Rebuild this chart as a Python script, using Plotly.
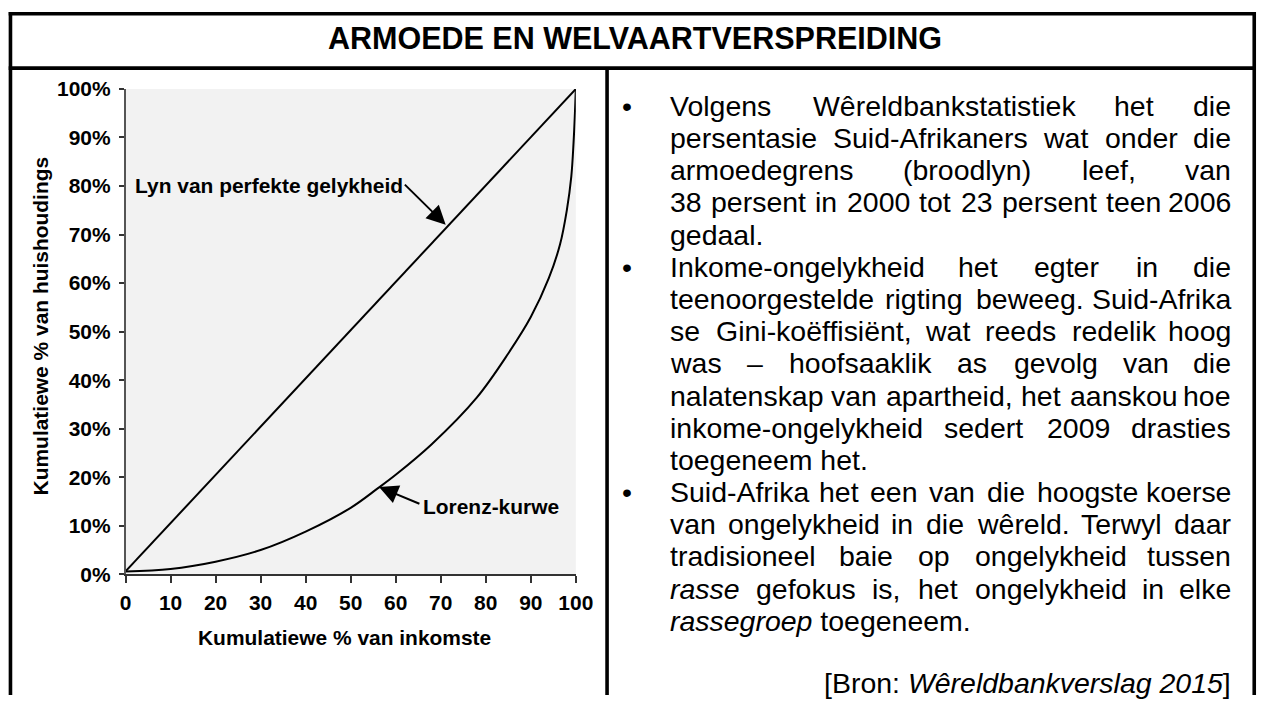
import plotly.graph_objects as go

W, H = 1273, 706

# ---------------- data ----------------
title_text = "ARMOEDE EN WELVAARTVERSPREIDING"
x_title = "Kumulatiewe % van inkomste"
y_title = "Kumulatiewe % van huishoudings"
equality_label = "Lyn van perfekte gelykheid"
lorenz_label = "Lorenz-kurwe"

# Lorenz curve (cumulative % of income on x, cumulative % of households on y)
lorenz_x = [0, 10, 20, 30, 40, 50, 56, 60, 68, 78, 85, 90, 94, 96.5, 98, 99, 99.5, 99.8, 100]
lorenz_y = [0.6, 1.1, 2.6, 5.0, 8.8, 13.7, 17.7, 20.5, 26.8, 36.4, 45.5, 53, 61, 68, 75, 82, 89, 95, 100]

# line of perfect equality
equality_x = [0, 100]
equality_y = [0.6, 100]

x_ticks = [0, 10, 20, 30, 40, 50, 60, 70, 80, 90, 100]
y_ticks = [0, 10, 20, 30, 40, 50, 60, 70, 80, 90, 100]
y_tick_labels = ["0%", "10%", "20%", "30%", "40%", "50%", "60%", "70%", "80%", "90%", "100%"]

# right-hand text: (line, justified)   *word* = italic
bullet_paragraphs = [
    [("Volgens Wêreldbankstatistiek het die", True),
     ("persentasie Suid-Afrikaners wat onder die", True),
     ("armoedegrens (broodlyn) leef, van", True),
     ("38 persent in 2000 tot 23 persent teen 2006", True),
     ("gedaal.", False)],
    [("Inkome-ongelykheid het egter in die", True),
     ("teenoorgestelde rigting beweeg. Suid-Afrika", True),
     ("se Gini-koëffisiënt, wat reeds redelik hoog", True),
     ("was – hoofsaaklik as gevolg van die", True),
     ("nalatenskap van apartheid, het aanskou hoe", True),
     ("inkome-ongelykheid sedert 2009 drasties", True),
     ("toegeneem het.", False)],
    [("Suid-Afrika het een van die hoogste koerse", True),
     ("van ongelykheid in die wêreld. Terwyl daar", True),
     ("tradisioneel baie op ongelykheid tussen", True),
     ("*rasse* gefokus is, het ongelykheid in elke", True),
     ("*rassegroep* toegeneem.", False)],
]
source_text = "[Bron: <i>Wêreldbankverslag 2015</i>]"

# ---------------- helpers ----------------
FONT = "Liberation Sans, Arial, Helvetica, sans-serif"

# the photographed page comes out slightly shrunk; layout positions below are given
# in picture pixels and converted to page pixels here
SX, OX = 0.99, 2.0
SY, OY = 0.9767, 8.3
FS = 1 / ((SX + SY) / 2)


def gx(x):
    return (x - OX) / SX


def gy(y):
    return (y - OY) / SY


def px(x):
    return gx(x) / W


def py(y):
    return 1 - gy(y) / H


def ppx(x):          # raw page pixels -> paper
    return x / W


def ppy(y):
    return 1 - y / H


ARIAL = {' ': 278, '!': 278, '(': 333, ')': 333, ',': 278, '-': 333, '.': 278, ':': 278,
         '[': 278, ']': 278, '%': 889, '–': 556,
         'A': 667, 'B': 667, 'C': 722, 'D': 722, 'E': 667, 'F': 611, 'G': 778, 'H': 722,
         'I': 278, 'J': 500, 'K': 667, 'L': 556, 'M': 833, 'N': 722, 'O': 778, 'P': 667,
         'Q': 778, 'R': 722, 'S': 667, 'T': 611, 'U': 722, 'V': 667, 'W': 944, 'X': 667,
         'Y': 667, 'Z': 611,
         'a': 556, 'b': 556, 'c': 500, 'd': 556, 'e': 556, 'f': 278, 'g': 556, 'h': 556,
         'i': 222, 'j': 222, 'k': 500, 'l': 222, 'm': 833, 'n': 556, 'o': 556, 'p': 556,
         'q': 556, 'r': 333, 's': 500, 't': 278, 'u': 556, 'v': 500, 'w': 722, 'x': 500,
         'y': 500, 'z': 500, 'ê': 556, 'ë': 556, 'é': 556, 'ï': 278}
for d in "0123456789":
    ARIAL[d] = 556


def text_w(s, size):
    return sum(ARIAL.get(c, 556) for c in s) * size / 1000.0


def fmt(word):
    if word.startswith("*") and word.endswith("*"):
        return "<i>" + word[1:-1] + "</i>"
    return word


def plain(word):
    return word.strip("*")


annotations = []
BODY_SIZE = 28 * FS
TEXT_L, TEXT_R = gx(670), gx(1238)      # page pixels
BULLET_X = 628
LINE0_Y, LINE_H = 103, 32.5             # picture pixels


def body_ann(text, x_page, y_pic, anchor):
    annotations.append(dict(text=text, x=ppx(x_page), y=py(y_pic), xref="paper", yref="paper",
                            xanchor=anchor, yanchor="middle", showarrow=False, borderpad=0,
                            font=dict(family=FONT, size=BODY_SIZE, color="black")))


line_no = 0
for para in bullet_paragraphs:
    for i, (line, justified) in enumerate(para):
        y = LINE0_Y + line_no * LINE_H
        if i == 0:
            body_ann("•", gx(BULLET_X), y, "center")
        words = line.split(" ")
        if not justified or len(words) == 1:
            body_ann(" ".join(fmt(w) for w in words), TEXT_L, y, "left")
        else:
            widths = [text_w(plain(w), BODY_SIZE) for w in words]
            gap = (TEXT_R - TEXT_L - sum(widths)) / (len(words) - 1)
            xpos = TEXT_L
            for k, w in enumerate(words):
                if k == len(words) - 1:
                    body_ann(fmt(w), TEXT_R, y, "right")
                else:
                    body_ann(fmt(w), xpos, y, "left")
                xpos += widths[k] + gap
        line_no += 1

body_ann(source_text, TEXT_R, 686, "right")

CH_SIZE = 20.6 * FS
bold = dict(family=FONT, size=CH_SIZE, color="black", weight="bold")

# title
annotations.append(dict(text=title_text, x=px(636), y=py(35), xref="paper", yref="paper",
                        xanchor="center", yanchor="middle", showarrow=False,
                        font=dict(family=FONT, size=30 * FS, color="black", weight="bold")))

# axis titles
annotations.append(dict(text=x_title, x=px(343), y=py(640), xref="paper", yref="paper",
                        xanchor="center", yanchor="middle", showarrow=False, font=bold))
annotations.append(dict(text=y_title, x=px(37), y=py(325), xref="paper", yref="paper",
                        xanchor="center", yanchor="middle", showarrow=False, textangle=-90,
                        font=bold))

# chart labels
annotations.append(dict(text=equality_label, x=px(130), y=py(183), xref="paper", yref="paper",
                        xanchor="left", yanchor="middle", showarrow=False, font=bold))
annotations.append(dict(text=lorenz_label, x=px(420), y=py(508), xref="paper", yref="paper",
                        xanchor="left", yanchor="middle", showarrow=False, font=bold))
# arrows
annotations.append(dict(text="", x=71.1, y=72.0, ax=61.7, ay=80.6, xref="x", yref="y",
                        axref="x", ayref="y", showarrow=True, arrowhead=2, arrowsize=1.9,
                        arrowwidth=2, arrowcolor="black"))
annotations.append(dict(text="", x=56.3, y=18.0, ax=65.6, ay=14.4, xref="x", yref="y",
                        axref="x", ayref="y", showarrow=True, arrowhead=2, arrowsize=1.9,
                        arrowwidth=2, arrowcolor="black"))

# frame lines (page pixels, clamped to the page)
shapes = []
LW = 3.6


def hline(y_page, x0_page, x1_page):
    shapes.append(dict(type="line", xref="paper", yref="paper", x0=ppx(x0_page), x1=ppx(x1_page),
                       y0=ppy(y_page), y1=ppy(y_page), line=dict(color="black", width=LW)))


def vline(x_page, y0_page, y1_page):
    shapes.append(dict(type="line", xref="paper", yref="paper", x0=ppx(x_page), x1=ppx(x_page),
                       y0=ppy(y0_page), y1=ppy(y1_page), line=dict(color="black", width=LW)))


left_b = max(gx(6.5), 1.8)
right_b = min(gx(1267), W - 1.8)
top_b = max(gy(6), 1.8)
hline(top_b, left_b - 1.8, right_b + 1.8)
hline(gy(65), left_b - 1.8, right_b + 1.8)
vline(left_b, top_b - 1.8, H)
vline(right_b, top_b - 1.8, H)
vline(gx(608), gy(65), H)

fig = go.Figure()
fig.add_trace(go.Scatter(x=equality_x, y=equality_y, mode="lines", cliponaxis=False,
                         line=dict(color="black", width=2), hoverinfo="skip"))
fig.add_trace(go.Scatter(x=lorenz_x, y=lorenz_y, mode="lines", cliponaxis=False,
                         line=dict(color="black", width=2, shape="spline", smoothing=1.0),
                         hoverinfo="skip"))

fig.update_layout(
    width=W, height=H,
    margin=dict(l=0, r=0, t=0, b=0),
    paper_bgcolor="white", plot_bgcolor="#f2f2f2",
    showlegend=False,
    xaxis=dict(domain=[px(122.5), px(576.5)], range=[0, 100], tickvals=x_ticks,
               ticks="outside", ticklen=7, tickwidth=2, tickcolor="#333", ticklabelstandoff=2,
               showline=True, linecolor="#333", linewidth=2, showgrid=False, zeroline=False,
               tickfont=bold, fixedrange=True),
    yaxis=dict(domain=[py(576), py(86)], range=[0, 100], tickvals=y_ticks,
               ticktext=y_tick_labels, ticks="outside", ticklen=5, tickwidth=1.5,
               tickcolor="#333", ticklabelstandoff=4, showline=True, linecolor="#555",
               linewidth=1.5, showgrid=False, zeroline=False, tickfont=bold, fixedrange=True),
    annotations=annotations,
    shapes=shapes,
)

fig.write_html("out.html", config={"displayModeBar": False},
               post_script="document.body.style.margin='0';document.body.style.overflow='hidden';")
